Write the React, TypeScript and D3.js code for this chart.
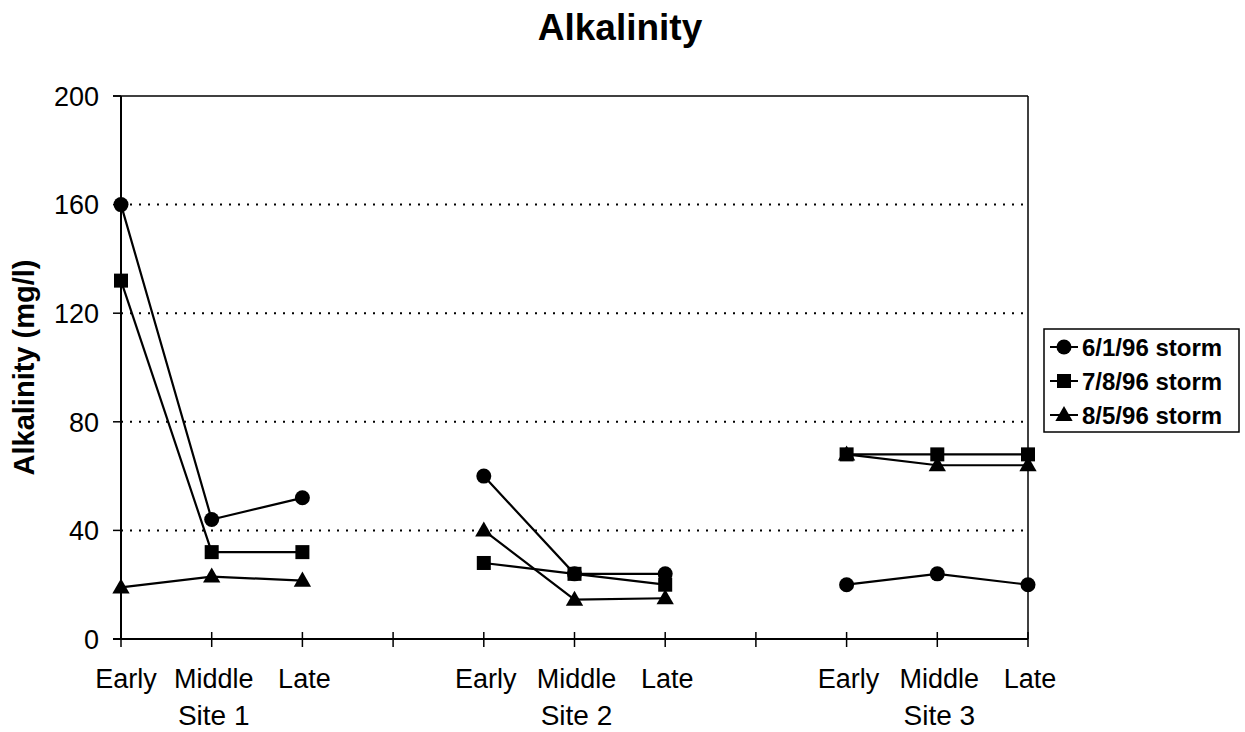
import React from "react";
import * as d3 from "d3";

const categories = ["Early", "Middle", "Late", "", "Early", "Middle", "Late", "", "Early", "Middle", "Late"];
const siteLabels = ["Site 1", "Site 2", "Site 3"];
const siteCenters = [1, 5, 9];
const yTicks = [0, 40, 80, 120, 160, 200];
const gridTicks = [40, 80, 120, 160];
const seriesNames = ["6/1/96 storm", "7/8/96 storm", "8/5/96 storm"];
const storm0601: (number | null)[] = [160, 44, 52, null, 60, 24, 24, null, 20, 24, 20];
const storm0708: (number | null)[] = [132, 32, 32, null, 28, 24, 20, null, 68, 68, 68];
const storm0805: (number | null)[] = [19, 23, 21.5, null, 40, 14.5, 15, null, 68, 64, 64];
const seriesData = [storm0601, storm0708, storm0805];
const markerTypes = ["circle", "square", "triangle"];

const FONT = "'Liberation Sans', Arial, Helvetica, sans-serif";

function Marker({ type, x, y }: { type: string; x: number; y: number }) {
  if (type === "circle") return <circle cx={x} cy={y} r={7.5} fill="#000" />;
  if (type === "square") return <rect x={x - 7} y={y - 7} width={14} height={14} fill="#000" />;
  const p = d3.symbol().type(d3.symbolTriangle).size(130)();
  return <path d={p || ""} transform={`translate(${x},${y + 1})`} fill="#000" />;
}

export default function App() {
  const W = 1245, H = 732;
  const left = 121, right = 1028, top = 96, bottom = 639;
  const x = d3.scaleLinear().domain([0, categories.length - 1]).range([left, right]);
  const y = d3.scaleLinear().domain([0, 200]).range([bottom, top]);
  const line = d3
    .line<number | null>()
    .defined((d) => d != null)
    .x((_, i) => x(i))
    .y((d) => y(d as number));

  const legendX = 1044, legendY = 329, legendW = 195, legendH = 103;
  const rowY = [347, 381, 415];

  return (
    <svg
      width={W}
      height={H}
      style={{ position: "absolute", left: 0, top: 0, background: "#fff" }}
      fontFamily={FONT}
    >
      <rect x={0} y={0} width={W} height={H} fill="#fff" />
      <text x={620} y={40} textAnchor="middle" fontSize={37} fontWeight="bold">
        Alkalinity
      </text>

      {/* gridlines */}
      {gridTicks.map((t) => (
        <line
          key={"g" + t}
          x1={left}
          x2={right}
          y1={y(t)}
          y2={y(t)}
          stroke="#000"
          strokeWidth={2}
          strokeDasharray="2,7"
        />
      ))}

      {/* frame */}
      <line x1={left - 8} x2={right} y1={top} y2={top} stroke="#000" strokeWidth={1.5} />
      <line x1={right} x2={right} y1={top} y2={bottom} stroke="#000" strokeWidth={1.5} />
      <line x1={left} x2={left} y1={top} y2={bottom} stroke="#000" strokeWidth={2} />
      <line x1={left - 8} x2={right} y1={bottom} y2={bottom} stroke="#000" strokeWidth={2} />

      {/* y ticks */}
      {yTicks.map((t) => (
        <g key={"y" + t}>
          <line x1={left - 8} x2={left} y1={y(t)} y2={y(t)} stroke="#000" strokeWidth={1.5} />
          <text x={99} y={y(t)} dy="0.36em" textAnchor="end" fontSize={27}>
            {t}
          </text>
        </g>
      ))}

      {/* x ticks */}
      {categories.map((c, i) => (
        <g key={"x" + i}>
          <line x1={x(i)} x2={x(i)} y1={bottom - 7} y2={bottom + 8} stroke="#000" strokeWidth={1.5} />
          {c && (
            <text x={i === 0 ? x(i) + 5 : x(i) + 2} y={688} textAnchor="middle" fontSize={27}>
              {c}
            </text>
          )}
        </g>
      ))}
      {siteLabels.map((s, i) => (
        <text key={s} x={x(siteCenters[i]) + 2} y={725} textAnchor="middle" fontSize={28}>
          {s}
        </text>
      ))}

      <text
        transform={`translate(34,${(top + bottom) / 2}) rotate(-90)`}
        textAnchor="middle"
        fontSize={29}
        fontWeight="bold"
      >
        Alkalinity (mg/l)
      </text>

      {/* series */}
      {seriesData.map((s, si) => (
        <g key={"s" + si}>
          <path d={line(s) || ""} fill="none" stroke="#000" strokeWidth={2.2} />
          {s.map((v, i) => (v == null ? null : <Marker key={i} type={markerTypes[si]} x={x(i)} y={y(v)} />))}
        </g>
      ))}

      {/* legend */}
      <rect x={legendX} y={legendY} width={legendW} height={legendH} fill="#fff" stroke="#000" strokeWidth={1.5} />
      {seriesNames.map((n, i) => (
        <g key={n}>
          <line x1={1050} x2={1078} y1={rowY[i]} y2={rowY[i]} stroke="#000" strokeWidth={2} />
          <Marker type={markerTypes[i]} x={1064} y={rowY[i]} />
          <text x={1082} y={rowY[i]} dy="0.36em" fontSize={24} fontWeight="bold">
            {n}
          </text>
        </g>
      ))}
    </svg>
  );
}
